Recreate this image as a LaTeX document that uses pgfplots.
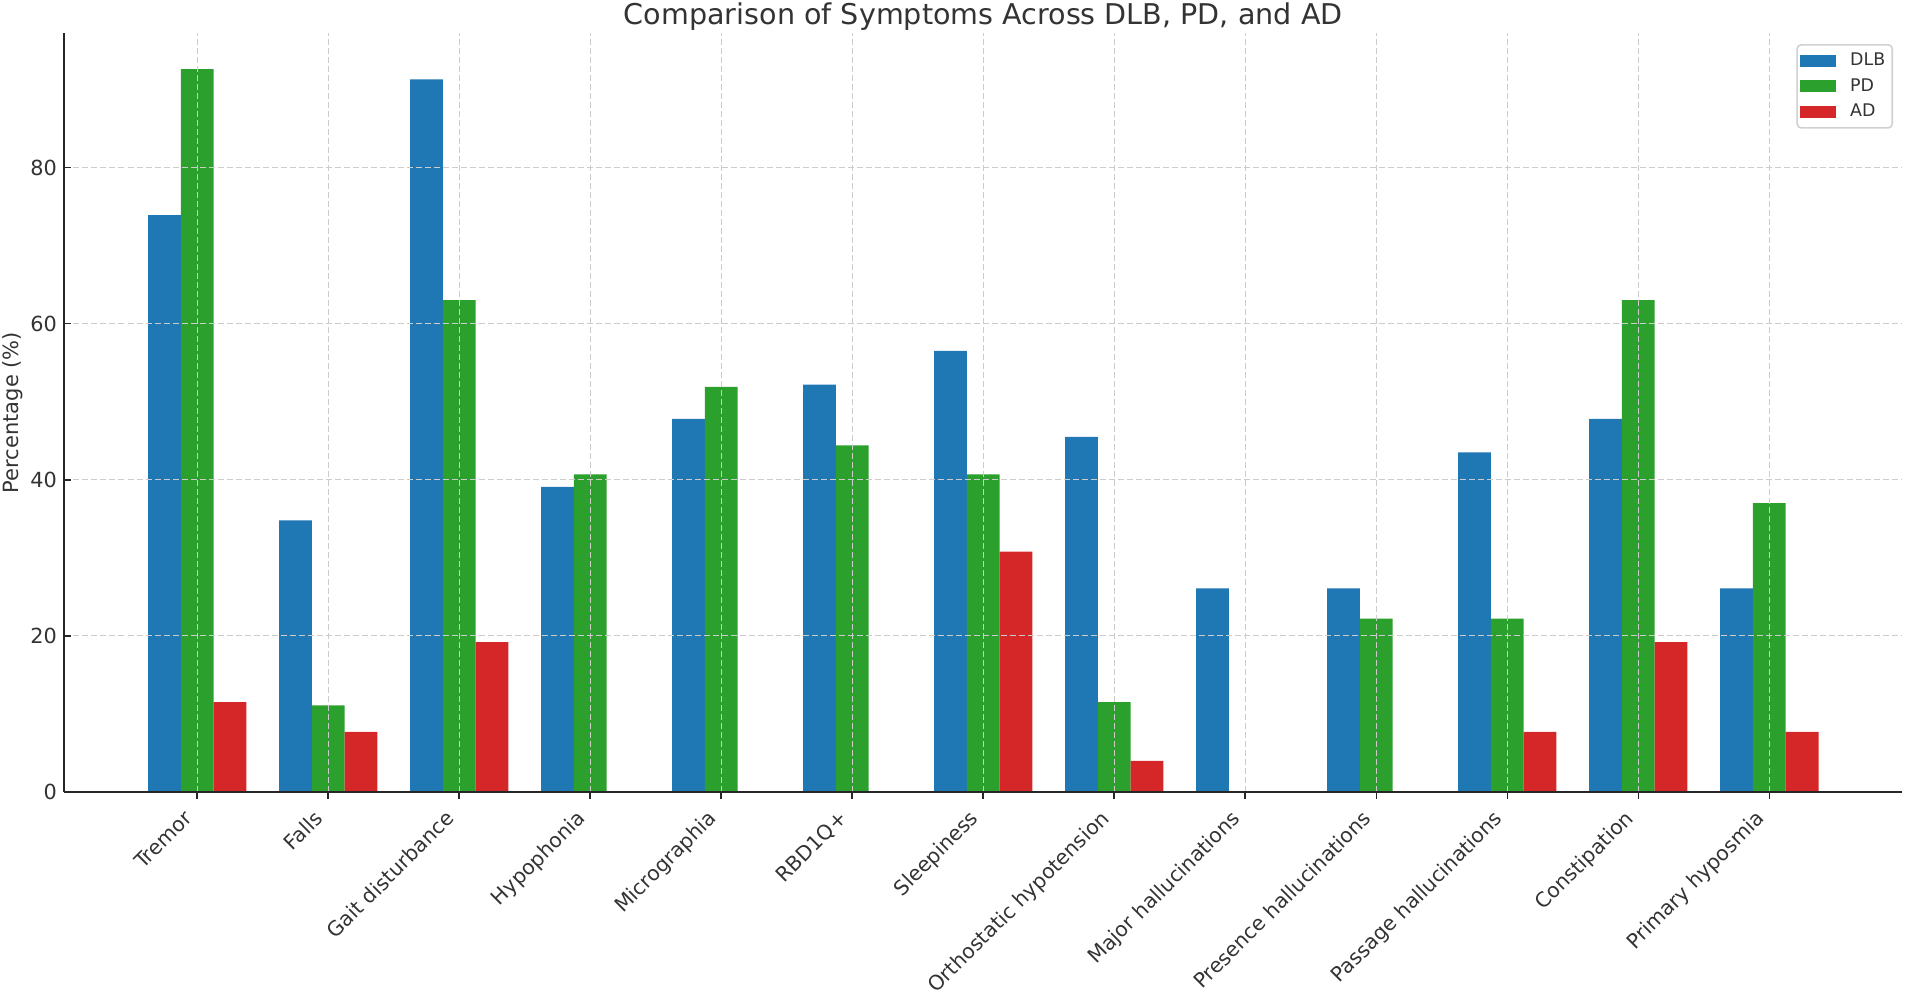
\documentclass[border=0pt]{standalone}
\usepackage{fontspec}
\setmainfont{DejaVu Sans}
\usepackage{pgfplots}
\pgfplotsset{compat=1.18}
\definecolor{cDLB}{HTML}{1F77B4}
\definecolor{cPD}{HTML}{2CA02C}
\definecolor{cAD}{HTML}{D62728}
\definecolor{txt}{HTML}{333333}
\definecolor{gridc}{HTML}{CCCCCC}
\begin{document}
\begin{tikzpicture}
\begin{axis}[
  at={(0,0)}, anchor=south west,
  scale only axis, width=918.75pt, height=379.5pt,
  xmin=-1.0125, xmax=13.0125, ymin=0, ymax=97.23,
  axis on top,
  axis x line*=bottom, axis y line*=left,
  axis line style={line width=1pt, black!85},
  xtick={0,1,2,3,4,5,6,7,8,9,10,11,12},
  xticklabels={Tremor, Falls, Gait disturbance, Hypophonia, Micrographia, RBD1Q+, Sleepiness, Orthostatic hypotension, Major hallucinations, Presence hallucinations, Passage hallucinations, Constipation, Primary hyposmia},
  ytick={0,20,40,60,80},
  tick align=inside, major tick length=3.5pt,
  tick style={line width=0.8pt, black!85},
  xmajorgrids, ymajorgrids,
  grid style={gridc, dash pattern=on 3pt off 1.5pt, line width=0.5pt},
  /pgf/number format/assume math mode=true,
  yticklabel style={font=\fontsize{10.4}{12.5}\selectfont, text=txt, inner sep=0pt, xshift=-3.6pt},
  xticklabel style={font=\fontsize{10.2}{12.5}\selectfont, text=txt, inner sep=0pt, xshift=-1.8pt, yshift=-10.3pt, rotate=45, anchor=base east},
  title={Comparison of Symptoms Across DLB, PD, and AD},
  title style={font=\fontsize{14.3}{17}\selectfont, text=txt, at={(axis description cs:0.5,1)}, anchor=base, yshift=-1.5pt},
  ylabel={Percentage (\%)},
  ylabel style={font=\fontsize{10.5}{13}\selectfont, text=txt, at={(axis description cs:-0.0283,0.5)}, anchor=center},
  ybar=0pt, bar width=0.25,
  legend style={at={(0.9951,0.9855)}, anchor=north east, font=\fontsize{8.7}{10.5}\selectfont, text=txt, draw=black!18, rounded corners=2pt, line width=0.8pt, fill=white, inner xsep=1.5pt, inner ysep=2pt, row sep=1pt,
    /tikz/every odd column/.append style={column sep=5pt}},
  legend image code/.code={\path[#1,draw=none,sharp corners] (0pt,-3pt) rectangle (18pt,3pt);},
  legend cell align=left,
]
\addplot[fill=cDLB, draw=none, bar shift=-0.25] coordinates {
 (0,73.9) (1,34.8) (2,91.3) (3,39.1) (4,47.8) (5,52.2) (6,56.5) (7,45.5) (8,26.1) (9,26.1) (10,43.5) (11,47.8) (12,26.1)};
\addlegendentry{DLB}
\addplot[fill=cPD, draw=none, bar shift=0] coordinates {
 (0,92.6) (1,11.1) (2,63.0) (3,40.7) (4,51.9) (5,44.4) (6,40.7) (7,11.5) (8,0) (9,22.2) (10,22.2) (11,63.0) (12,37.0)};
\addlegendentry{PD}
\addplot[fill=cAD, draw=none, bar shift=0.25] coordinates {
 (0,11.5) (1,7.7) (2,19.2) (3,0) (4,0) (5,0) (6,30.8) (7,4.0) (8,0) (9,0) (10,7.7) (11,19.2) (12,7.7)};
\addlegendentry{AD}
\end{axis}
\pgfresetboundingbox
\useasboundingbox (-32.25pt,-100.5pt) rectangle (920.25pt,396pt);
\end{tikzpicture}
\end{document}
